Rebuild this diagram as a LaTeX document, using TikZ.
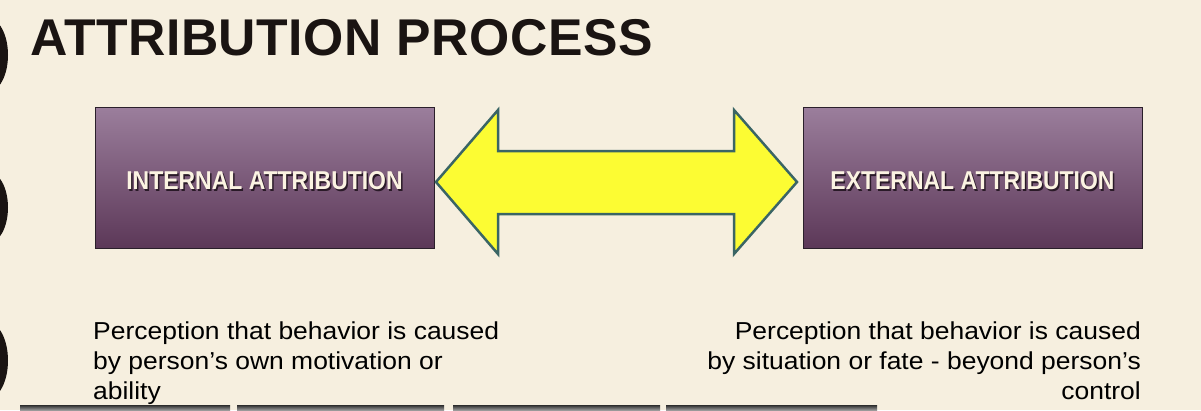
\documentclass[tikz,border=0pt]{standalone}
\usepackage{fontspec}
\setmainfont{Liberation Sans}
\newfontfamily\titlefont{Liberation Sans}[LetterSpace=1]
\newfontfamily\boxfont{Liberation Sans}[FakeStretch=0.89]
\newfontfamily\bodyfont{Liberation Sans}[FakeStretch=1.08]
\definecolor{bgc}{HTML}{F6EFDF}
\definecolor{ringc}{HTML}{1A1412}
\definecolor{titlec}{HTML}{1A1412}
\definecolor{boxtop}{HTML}{9B7E9C}
\definecolor{boxbot}{HTML}{5C3858}
\definecolor{boxline}{HTML}{2A1F2A}
\definecolor{labelc}{HTML}{FBF3E2}
\definecolor{shadc}{HTML}{2A1A28}
\definecolor{arrowfill}{HTML}{FCFC33}
\definecolor{arrowline}{HTML}{3A6565}
\newcommand{\shadowlabel}[1]{\rlap{\kern1.5pt\raisebox{-1.5pt}{\color{shadc}#1}}#1}
\tikzset{
  boxnode/.style={draw=boxline, line width=1pt, top color=boxtop, bottom color=boxbot,
    minimum width=339, minimum height=141, inner sep=0, text=labelc,
    text height=24pt, text depth=0pt,
    font=\boxfont\bfseries\fontsize{25.8}{30}\selectfont},
  bodyline/.style={inner sep=0, text=black, font=\bodyfont\fontsize{24.5}{30}\selectfont},
  bigarrow/.style={fill=arrowfill, draw=arrowline, line width=2.5pt, line join=miter},
  ring/.style={fill=ringc},
  strip/.style={top color=gray!35!black, bottom color=gray!80}
}
\begin{document}
\begin{tikzpicture}[x=1pt,y=-1pt]
\useasboundingbox (0,0) rectangle (1201,410);
\fill[bgc] (0,0) rectangle (1201,410);
% binder rings
\begin{scope}
\clip (0,0) rectangle (1201,410);
\fill[ring] (-12,55) ellipse [x radius=20, y radius=37];
\fill[ring] (-12,207.5) ellipse [x radius=20, y radius=36];
\fill[ring] (-12,360.5) ellipse [x radius=20, y radius=38];
\end{scope}
% bottom strip
\fill[strip] (20,405) rectangle (230,410);
\fill[strip] (237,405) rectangle (444,410);
\fill[strip] (453,405) rectangle (660,410);
\fill[strip] (666,405) rectangle (877,410);
% title
\node[anchor=base west, inner sep=0, text=titlec, font=\titlefont\bfseries\fontsize{51.7}{60}\selectfont] (title) at (30,55) {ATTRIBUTION PROCESS};
% boxes
\node[boxnode] (int) at (264.5,177.5) {\shadowlabel{INTERNAL ATTRIBUTION}};
\node[boxnode] (ext) at (972.5,177.5) {\shadowlabel{EXTERNAL ATTRIBUTION}};
% double arrow
\coordinate (lt) at (436,182);
\coordinate (rt) at (797,182);
\draw[bigarrow] (lt) -- (498,110) -- (498,151) -- (734,151) -- (734,110) -- (rt)
  -- (734,254) -- (734,214) -- (498,214) -- (498,254) -- cycle;
% texts
\node[bodyline, anchor=base west] (l1) at (93,339) {Perception that behavior is caused};
\node[bodyline, anchor=base west] (l2) at (93,369) {by person’s own motivation or};
\node[bodyline, anchor=base west] (l3) at (93,399) {ability};
\node[bodyline, anchor=base east] (r1) at (1141,339) {Perception that behavior is caused};
\node[bodyline, anchor=base east] (r2) at (1141,369) {by situation or fate - beyond person’s};
\node[bodyline, anchor=base east] (r3) at (1141,399) {control};
\end{tikzpicture}
\end{document}
